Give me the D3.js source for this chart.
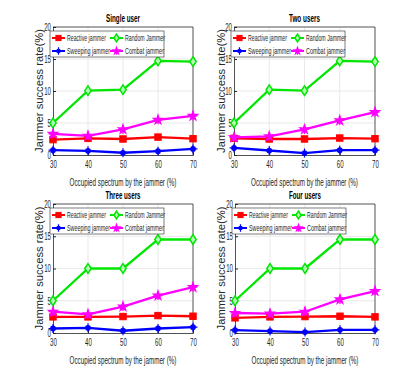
<!DOCTYPE html>
<html><head><meta charset="utf-8">
<script src="https://cdn.jsdelivr.net/npm/d3@7"></script>
<style>body{margin:0;background:#fff}svg{display:block}</style>
</head><body>
<script>
const xValues = [30, 40, 50, 60, 70];
const yTicks = [0, 5, 10, 15, 20];
const panelTitles = ["Single user", "Two users", "Three users", "Four users"];
const seriesNames = ["Reactive jammer", "Random Jammer", "Sweeping jammer", "Combat  jammer"];
const reactive = [
  [2.4, 2.6, 2.5, 2.8, 2.55],
  [2.6, 2.5, 2.5, 2.65, 2.55],
  [2.5, 2.5, 2.55, 2.7, 2.6],
  [2.35, 2.5, 2.55, 2.6, 2.5]
];
const random = [
  [5.0, 10.05, 10.2, 14.7, 14.6],
  [5.0, 10.2, 10.05, 14.7, 14.6],
  [5.0, 10.0, 10.0, 14.5, 14.5],
  [5.0, 10.0, 10.0, 14.5, 14.5]
];
const sweeping = [
  [0.75, 0.65, 0.35, 0.6, 0.95],
  [1.1, 0.7, 0.3, 0.75, 0.75],
  [0.7, 0.8, 0.35, 0.7, 0.9],
  [0.45, 0.3, 0.15, 0.5, 0.5]
];
const combat = [
  [3.3, 3.0, 4.0, 5.5, 6.1],
  [2.75, 2.9, 4.0, 5.4, 6.7],
  [3.3, 2.9, 4.1, 5.8, 7.1],
  [3.1, 3.0, 3.3, 5.2, 6.5]
];
const xLabel = "Occupied spectrum by the jammer (%)";
const yLabel = "Jammer success rate(%)";

const colors = ["#ff0000", "#00e600", "#0000ff", "#ff00ff"];
const markers = ["square", "diamond", "circle", "star"];
const font = "'Liberation Sans',Arial,sans-serif";

const panels = [
  {x0: 53, x1: 193, yTop: 27, yBot: 155, ylx: 39},
  {x0: 234, x1: 375, yTop: 27, yBot: 155, ylx: 221},
  {x0: 53, x1: 193, yTop: 204, yBot: 333, ylx: 39},
  {x0: 235, x1: 375, yTop: 204, yBot: 333, ylx: 221}
];
const titleWidths = [34, 31, 35, 32];
const legendWidths = [39, 40, 43, 39];

const svg = d3.select("body").append("svg").attr("width", 415).attr("height", 374);

// condense a text to a given width with a horizontal scale
function fit(sel, w) {
  const node = sel.node();
  const n = node.getComputedTextLength();
  const k = n > 0 ? w / n : 1;
  const tx = +(sel.attr("x") || 0), ty = +(sel.attr("y") || 0);
  const base = sel.attr("transform") || "";
  sel.attr("x", null).attr("y", null)
    .attr("transform", `${base} translate(${tx},${ty}) scale(${k},1)`);
  return sel;
}

function drawMarker(g, type, color, x, y, s) {
  if (type === "square") {
    g.append("rect").attr("x", x - s).attr("y", y - s).attr("width", 2*s).attr("height", 2*s)
      .attr("fill", color).attr("stroke", color).attr("stroke-width", 1);
  } else if (type === "diamond") {
    g.append("path").attr("d", `M${x},${y-s*1.5}L${x+s},${y}L${x},${y+s*1.5}L${x-s},${y}Z`)
      .attr("fill", "#b3ffb3").attr("stroke", color).attr("stroke-width", 1.5);
  } else if (type === "circle") {
    g.append("circle").attr("cx", x).attr("cy", y).attr("r", s*0.9).attr("fill", color);
    g.append("path").attr("d", `M${x-s*1.4},${y}H${x+s*1.4}M${x},${y-s*1.4}V${y+s*1.4}`)
      .attr("stroke", color).attr("stroke-width", 1.2);
  } else {
    g.append("path").attr("d", d3.symbol(d3.symbolStar, s*s*5)())
      .attr("transform", `translate(${x},${y})`).attr("fill", color);
    g.append("path").attr("d", `M${x-s*1.4},${y}H${x+s*1.4}M${x},${y-s*1.4}V${y+s*1.4}`)
      .attr("stroke", color).attr("stroke-width", 1.2);
  }
}

panels.forEach((p, i) => {
  const g = svg.append("g");
  const x = d3.scaleLinear().domain([30, 70]).range([p.x0, p.x1]);
  const y = d3.scaleLinear().domain([0, 20]).range([p.yBot, p.yTop]);

  // grid
  g.append("g").selectAll("line").data(xValues.slice(1, -1)).join("line")
    .attr("x1", d => x(d)).attr("x2", d => x(d)).attr("y1", p.yTop).attr("y2", p.yBot)
    .attr("stroke", "#e3e3e3").attr("stroke-width", 0.8);
  g.append("g").selectAll("line").data(yTicks.slice(1, -1)).join("line")
    .attr("y1", d => y(d)).attr("y2", d => y(d)).attr("x1", p.x0).attr("x2", p.x1)
    .attr("stroke", "#e3e3e3").attr("stroke-width", 0.8);

  // axes
  const xa = g.append("g").attr("transform", `translate(0,${p.yBot})`)
    .call(d3.axisBottom(x).tickValues(xValues).tickSize(-3).tickPadding(6));
  const ya = g.append("g").attr("transform", `translate(${p.x0},0)`)
    .call(d3.axisLeft(y).tickValues(yTicks).tickSize(-3).tickPadding(2));
  [xa, ya].forEach(a => {
    a.select(".domain").attr("stroke", "#262626").attr("stroke-width", 0.8);
    a.selectAll(".tick line").attr("stroke", "#262626");
    a.selectAll("text").attr("font-family", font).attr("font-size", 10.5).attr("fill", "#262626")
      .each(function(d) { fit(d3.select(this), String(d).length * 3.4); });
  });
  // box top/right
  g.append("path").attr("d", `M${p.x0},${p.yTop}H${p.x1}V${p.yBot}`)
    .attr("fill", "none").attr("stroke", "#262626").attr("stroke-width", 0.8);

  // title
  fit(g.append("text").attr("x", (p.x0 + p.x1) / 2).attr("y", p.yTop - 5)
    .attr("text-anchor", "middle").attr("font-family", font).attr("font-weight", "bold")
    .attr("font-size", 11.5).text(panelTitles[i]), titleWidths[i]);
  // x label
  fit(g.append("text").attr("x", (p.x0 + p.x1) / 2).attr("y", p.yBot + 31)
    .attr("text-anchor", "middle").attr("font-family", font).attr("font-size", 11.5)
    .attr("fill", "#262626").text(xLabel), 107);
  // y label
  fit(g.append("text").attr("transform", `translate(${p.ylx},${(p.yTop + p.yBot) / 2}) rotate(-90)`)
    .attr("text-anchor", "middle").attr("dy", "0.35em").attr("font-family", font)
    .attr("font-size", 11.5).attr("fill", "#262626").text(yLabel), 124);

  // series
  const all = [reactive[i], random[i], sweeping[i], combat[i]];
  const line = d3.line().x((d, k) => x(xValues[k])).y(d => y(d));
  all.forEach((vals, s) => {
    g.append("path").datum(vals).attr("d", line).attr("fill", "none")
      .attr("stroke", colors[s]).attr("stroke-width", 2.3);
  });
  all.forEach((vals, s) => {
    vals.forEach((v, k) => drawMarker(g, markers[s], colors[s], x(xValues[k]), y(v), 3.2));
  });

  // legend
  const lx = p.x0 - 3, ly = p.yTop + 4, lw = 114, lh = 26;
  const lg = g.append("g");
  lg.append("rect").attr("x", lx).attr("y", ly).attr("width", lw).attr("height", lh)
    .attr("fill", "#fff").attr("stroke", "#262626").attr("stroke-width", 0.6);
  seriesNames.forEach((name, s) => {
    const col = s % 2, row = Math.floor(s / 2);
    const sx = lx + 2 + col * 58, sy = ly + 7 + row * 13;
    lg.append("line").attr("x1", sx).attr("x2", sx + 13).attr("y1", sy).attr("y2", sy)
      .attr("stroke", colors[s]).attr("stroke-width", 2);
    drawMarker(lg, markers[s], colors[s], sx + 6.5, sy, 2.6);
    fit(lg.append("text").attr("x", sx + 15).attr("y", sy).attr("dy", "0.35em")
      .attr("font-family", font).attr("font-size", 9.5).attr("fill", "#262626").text(name), legendWidths[s]);
  });
});
</script>
</body></html>
